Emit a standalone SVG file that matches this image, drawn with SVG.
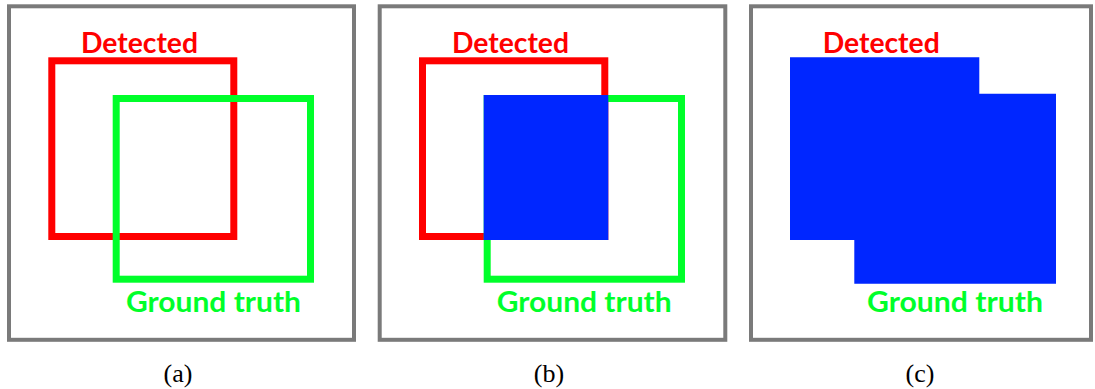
<svg xmlns="http://www.w3.org/2000/svg" width="1095" height="389" viewBox="0 0 1095 389">
<style>
.frame{fill:#fff;stroke:#7a7a7a;stroke-width:4}
.det{fill:none;stroke:#ff0000;stroke-width:7}
.gt{fill:none;stroke:#00ff2a;stroke-width:7}
.blue{fill:#0026ff}
.lr{font-family:Lato,"Open Sans",sans-serif;font-weight:bold;font-size:29px;fill:#ff0000}
.lg{font-family:Lato,"Open Sans",sans-serif;font-weight:bold;font-size:29px;fill:#00ff2a}
.cap{font-family:"Liberation Serif",serif;font-size:26px;fill:#000;text-anchor:middle}
</style>
<rect width="1095" height="389" fill="#fff"/>
<g id="panel-a">
<rect class="frame" x="9" y="6.3" width="345" height="333.5"/>
<rect class="det" x="51.8" y="60.8" width="182" height="175.7"/>
<rect class="gt" x="116.2" y="98.5" width="194.3" height="180.7"/>
<text class="lr" x="81" y="52.5" textLength="117" lengthAdjust="spacingAndGlyphs">Detected</text>
<text class="lg" x="126" y="311.5" textLength="175" lengthAdjust="spacingAndGlyphs">Ground truth</text>
<text class="cap" x="178" y="382">(a)</text>
</g>
<g id="panel-b">
<rect class="frame" x="379.7" y="6.3" width="345.6" height="333.5"/>
<rect class="det" x="422.5" y="60.8" width="182.3" height="175.7"/>
<rect class="gt" x="487.2" y="98.5" width="194.3" height="180.7"/>
<rect class="blue" x="483.7" y="95" width="124.6" height="145"/>
<text class="lr" x="452" y="52.5" textLength="117" lengthAdjust="spacingAndGlyphs">Detected</text>
<text class="lg" x="496.7" y="311.5" textLength="175" lengthAdjust="spacingAndGlyphs">Ground truth</text>
<text class="cap" x="549" y="382">(b)</text>
</g>
<g id="panel-c">
<rect class="frame" x="751" y="6.3" width="340" height="333.5"/>
<path class="blue" d="M790,57.3 H979.3 V93.7 H1056 V283.7 H854.3 V240 H790 Z"/>
<text class="lr" x="822.7" y="52.5" textLength="117" lengthAdjust="spacingAndGlyphs">Detected</text>
<text class="lg" x="867" y="311.5" textLength="176" lengthAdjust="spacingAndGlyphs">Ground truth</text>
<text class="cap" x="920" y="382">(c)</text>
</g>
<g id="connectors"></g>
</svg>
